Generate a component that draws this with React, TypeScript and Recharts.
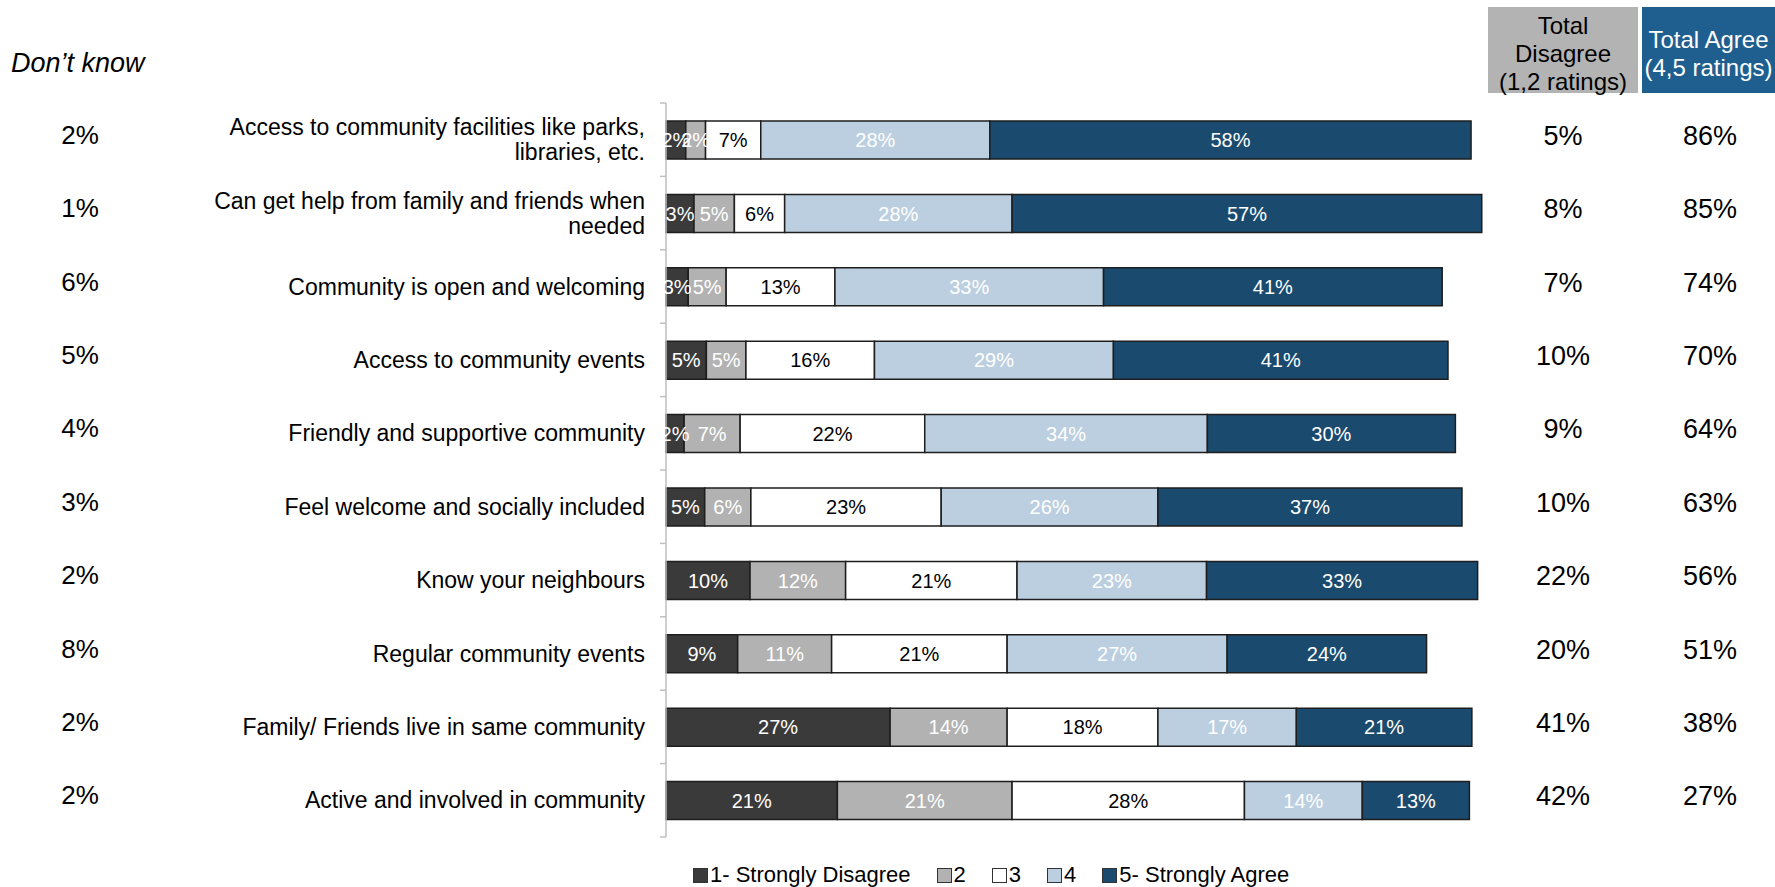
import React from 'react';
import { BarChart, Bar, XAxis, YAxis, LabelList } from 'recharts';

const categories = [
  'Access to community facilities like parks, libraries, etc.',
  'Can get help from family and friends when needed',
  'Community is open and welcoming',
  'Access to community events',
  'Friendly and supportive community',
  'Feel welcome and socially included',
  'Know your neighbours',
  'Regular community events',
  'Family/ Friends live in same community',
  'Active and involved in community',
];

// share of each rating
const strongDisagree = [2.4, 3.4, 2.7, 4.9, 2.2, 4.7, 10.2, 8.7, 27.2, 20.8];
const disagree = [2.4, 4.9, 4.6, 4.8, 6.8, 5.6, 11.6, 11.4, 14.2, 21.2];
const neutral = [6.7, 6.1, 13.2, 15.6, 22.4, 23.1, 20.8, 21.3, 18.3, 28.2];
const agree = [27.8, 27.6, 32.6, 29.0, 34.3, 26.3, 23.0, 26.7, 16.8, 14.3];
const strongAgree = [58.4, 57.0, 41.1, 40.6, 30.1, 36.9, 32.9, 24.2, 21.3, 13.0];

const dontKnow = [2, 1, 6, 5, 4, 3, 2, 8, 2, 2];
const totalDisagree = [5, 8, 7, 10, 9, 10, 22, 20, 41, 42];
const totalAgree = [86, 85, 74, 70, 64, 63, 56, 51, 38, 27];

const series = [
  { key: 'strongDisagree', name: '1- Strongly Disagree', fill: '#3a3a3a', text: '#ffffff' },
  { key: 'disagree', name: '2', fill: '#b2b2b2', text: '#ffffff' },
  { key: 'neutral', name: '3', fill: '#ffffff', text: '#000000' },
  { key: 'agree', name: '4', fill: '#bccfe0', text: '#ffffff' },
  { key: 'strongAgree', name: '5- Strongly Agree', fill: '#1a4a6e', text: '#ffffff' },
];

const rows = categories.map((category, i) => ({
  category,
  strongDisagree: strongDisagree[i],
  disagree: disagree[i],
  neutral: neutral[i],
  agree: agree[i],
  strongAgree: strongAgree[i],
}));

const FONT = '"Liberation Sans", Arial, sans-serif';
const W = 1775;
const H = 887;
const AXIS_X = 666;
const TOP = 103;
const BOTTOM = 837;
const BAND = (BOTTOM - TOP) / categories.length;
const LABEL_SIZE = 23;
const LABEL_WIDTH = 445;

let ctx: CanvasRenderingContext2D | null = null;
function wrap(text: string): string[] {
  if (!ctx) ctx = document.createElement('canvas').getContext('2d');
  if (!ctx) return [text];
  ctx.font = `${LABEL_SIZE}px "Liberation Sans", Arial, sans-serif`;
  const lines: string[] = [];
  let cur = '';
  for (const word of text.split(' ')) {
    const next = cur ? cur + ' ' + word : word;
    if (cur && ctx.measureText(next).width > LABEL_WIDTH) {
      lines.push(cur);
      cur = word;
    } else {
      cur = next;
    }
  }
  if (cur) lines.push(cur);
  return lines;
}

function RowTick(props: any) {
  const { y, payload } = props;
  const i = categories.indexOf(payload.value);
  const last = i === categories.length - 1;
  const lines = wrap(String(payload.value));
  const lh = 25;
  const y0 = y - ((lines.length - 1) * lh) / 2;
  return (
    <g>
      <line x1={AXIS_X - 6} x2={AXIS_X} y1={y - BAND / 2} y2={y - BAND / 2} stroke="#bfbfbf" strokeWidth={1.5} />
      {last && (
        <line x1={AXIS_X - 6} x2={AXIS_X} y1={y + BAND / 2} y2={y + BAND / 2} stroke="#bfbfbf" strokeWidth={1.5} />
      )}
      <text textAnchor="end" dominantBaseline="central" fontSize={LABEL_SIZE} fontFamily={FONT} fill="#000">
        {lines.map((ln, k) => (
          <tspan key={k} x={645} y={y0 + k * lh}>
            {ln}
          </tspan>
        ))}
      </text>
      <text x={80} y={y - 5} textAnchor="middle" dominantBaseline="central" fontSize={26} fontFamily={FONT} fill="#000">
        {dontKnow[i]}%
      </text>
      <text x={1563} y={y - 4} textAnchor="middle" dominantBaseline="central" fontSize={27} fontFamily={FONT} fill="#000">
        {totalDisagree[i]}%
      </text>
      <text x={1710} y={y - 4} textAnchor="middle" dominantBaseline="central" fontSize={27} fontFamily={FONT} fill="#000">
        {totalAgree[i]}%
      </text>
    </g>
  );
}

export default function App() {
  return (
    <div style={{ position: 'absolute', left: 0, top: 0, width: W, height: H, background: '#fff', fontFamily: FONT }}>
      <BarChart
        width={W}
        height={H}
        data={rows}
        layout="vertical"
        margin={{ top: TOP, right: 285, bottom: H - BOTTOM, left: 0 }}
      >
        <XAxis type="number" domain={[0, 100]} hide />
        <YAxis
          type="category"
          dataKey="category"
          width={AXIS_X}
          interval={0}
          axisLine={{ stroke: '#bfbfbf', strokeWidth: 1.5 }}
          tickLine={false}
          tick={(p: any) => <RowTick {...p} />}
        />
        {series.map((s) => (
          <Bar
            key={s.key}
            dataKey={s.key}
            name={s.name}
            stackId="a"
            fill={s.fill}
            stroke="#1e1e1e"
            strokeWidth={1.5}
            barSize={38}
            isAnimationActive={false}
          >
            <LabelList
              dataKey={s.key}
              position="center"
              formatter={(v: any) => `${Math.round(Number(v))}%`}
              fill={s.text}
              fontSize={20}
              fontFamily={FONT}
            />
          </Bar>
        ))}
      </BarChart>

      <div style={{ position: 'absolute', left: 11, top: 50, fontSize: 27, lineHeight: '27px', fontStyle: 'italic', color: '#000' }}>
        Don’t know
      </div>

      <div
        style={{
          position: 'absolute', left: 1488, top: 7, width: 150, height: 86, boxSizing: 'border-box', paddingTop: 7,
          background: '#b3b3b3', display: 'flex', flexDirection: 'column', alignItems: 'center', justifyContent: 'center',
          fontSize: 24, lineHeight: '28px', color: '#000', textAlign: 'center', whiteSpace: 'nowrap',
        }}
      >
        <div>Total</div>
        <div>Disagree</div>
        <div>(1,2 ratings)</div>
      </div>
      <div
        style={{
          position: 'absolute', left: 1642, top: 7, width: 133, height: 86, boxSizing: 'border-box', paddingTop: 7,
          background: '#1f5f8f', display: 'flex', flexDirection: 'column', alignItems: 'center', justifyContent: 'center',
          fontSize: 24, lineHeight: '28px', color: '#fff', textAlign: 'center', whiteSpace: 'nowrap',
        }}
      >
        <div>Total Agree</div>
        <div>(4,5 ratings)</div>
      </div>

      <div style={{ position: 'absolute', left: 693, top: 863, display: 'flex', alignItems: 'center', fontSize: 22, lineHeight: '24px', color: '#000' }}>
        {series.map((s) => (
          <div key={s.key} style={{ display: 'flex', alignItems: 'center', marginRight: 26 }}>
            <span style={{ width: 13, height: 13, background: s.fill, border: '1px solid #333', marginRight: 2, display: 'inline-block' }} />
            <span>{s.name}</span>
          </div>
        ))}
      </div>
    </div>
  );
}
